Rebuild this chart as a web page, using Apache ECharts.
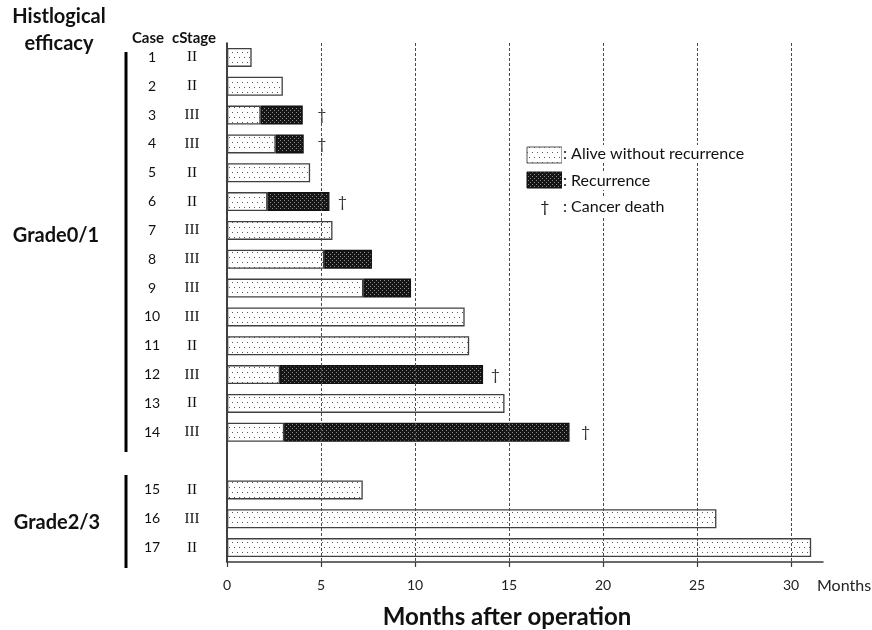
<!DOCTYPE html>
<html>
<head>
<meta charset="utf-8">
<script src="https://cdn.jsdelivr.net/npm/echarts@6/dist/echarts.min.js"></script>
<style>
html,body{margin:0;padding:0;background:#fff;}
#c{width:872px;height:630px;}
</style>
</head>
<body>
<div id="c"></div>
<script>
// ---- data ----
var cases = ['1','2','3','4','5','6','7','8','9','10','11','12','13','14','','15','16','17'];
var stages = ['II','II','III','III','II','II','III','III','III','III','II','III','II','III','','II','III','II'];
// months alive without recurrence (first segment)
var aliveMonths = [1.31, 2.97, 1.79, 2.59, 4.42, 2.15, 5.61, 5.17, 7.25, 12.64, 12.88, 2.82, 14.76, 3.04, null, 7.22, 26.03, 31.07];
// months with recurrence (second segment)
var recurrenceMonths = [null, null, 2.24, 1.49, null, 3.30, null, 2.54, 2.54, null, null, 10.80, null, 15.18, null, null, null, null];
// position of cancer death mark (months)
var deathMarks = [null, null, 5.05, 5.05, null, 6.14, null, null, null, null, null, 14.28, null, 19.07, null, null, null, null];
var tickValues = [0, 5, 10, 15, 20, 25, 30];
var gridValues = [5, 10, 15, 20, 25, 30];

// ---- patterns ----
function makeAlivePattern() {
  var c = document.createElement('canvas');
  c.width = 10; c.height = 10;
  var g = c.getContext('2d');
  g.fillStyle = '#ffffff'; g.fillRect(0, 0, 10, 10);
  g.fillStyle = '#5a5a5a';
  g.fillRect(2, 2, 1, 1); g.fillRect(7, 2, 1, 1);
  g.fillRect(4, 7, 1, 1); g.fillRect(9, 7, 1, 1);
  return c;
}
function makeRecPattern() {
  var c = document.createElement('canvas');
  c.width = 4; c.height = 4;
  var g = c.getContext('2d');
  g.fillStyle = '#161616'; g.fillRect(0, 0, 4, 4);
  g.fillStyle = '#8a8a8a';
  g.fillRect(0, 0, 1, 1); g.fillRect(2, 2, 1, 1);
  return c;
}
var alivePat = {image: makeAlivePattern(), repeat: 'repeat'};
var recPat = {image: makeRecPattern(), repeat: 'repeat'};
var alivePat2 = {image: makeAlivePattern(), repeat: 'repeat'};
var recPat2 = {image: makeRecPattern(), repeat: 'repeat'};

var chart = echarts.init(document.getElementById('c'), null, {renderer: 'canvas'});

var deathData = [];
deathMarks.forEach(function (v, i) { if (v != null) deathData.push([v, i]); });

var option = {
  animation: false,
  backgroundColor: '#ffffff',
  grid: {left: 227, right: 49, top: 43, bottom: 68, containLabel: false},
  xAxis: {
    type: 'value',
    min: 0,
    max: 31.7,
    interval: 5,
    axisLine: {show: true, lineStyle: {color: '#3a3a3a', width: 1.5}},
    axisTick: {show: true, customValues: tickValues, length: 5, lineStyle: {color: '#3a3a3a', width: 1.2}},
    axisLabel: {customValues: tickValues, fontFamily: 'Lato', fontSize: 14, color: '#222', margin: 16},
    splitLine: {show: false}
  },
  yAxis: {
    type: 'category',
    inverse: true,
    data: cases.map(function (c, i) { return i; }),
    axisLine: {show: true, lineStyle: {color: '#000', width: 1.5}},
    axisTick: {show: false},
    axisLabel: {
      margin: 15,
      interval: 0,
      formatter: function (v) {
        var i = +v;
        if (cases[i] === '') return '';
        return '{a|' + cases[i] + '}{b|' + stages[i] + '}';
      },
      rich: {
        a: {width: 40, align: 'center', fontFamily: 'Lato', fontSize: 14, color: '#111'},
        b: {width: 40, align: 'center', fontFamily: 'Liberation Serif', fontSize: 15, color: '#111'}
      }
    }
  },
  series: [
    {
      type: 'line',
      data: [],
      silent: true,
      z: 1,
      markLine: {
        silent: true,
        symbol: 'none',
        label: {show: false},
        lineStyle: {type: [3, 2], color: '#4a4a4a', width: 1},
        data: gridValues.map(function (v) { return {xAxis: v}; })
      }
    },
    {
      name: 'alive',
      type: 'bar',
      stack: 'total',
      z: 3,
      barWidth: 19,
      data: aliveMonths,
      itemStyle: {color: alivePat, borderColor: '#404040', borderWidth: 1.3}
    },
    {
      name: 'recurrence',
      type: 'bar',
      stack: 'total',
      z: 3,
      barWidth: 19,
      data: recurrenceMonths,
      itemStyle: {color: recPat, borderColor: '#111', borderWidth: 1.3}
    },
    {
      name: 'death',
      type: 'scatter',
      z: 4,
      symbolSize: 1,
      itemStyle: {color: 'transparent'},
      data: deathData,
      label: {show: true, position: 'inside', formatter: '\u2020', fontFamily: 'Lato', fontSize: 16, color: '#000'}
    }
  ],
  graphic: [
    {type: 'text', style: {text: 'Histlogical', x: 59, y: 17, align: 'center', verticalAlign: 'middle', font: 'bold 20px Lato', fill: '#111'}},
    {type: 'text', style: {text: 'efficacy', x: 59, y: 44, align: 'center', verticalAlign: 'middle', font: 'bold 20px Lato', fill: '#111'}},
    {type: 'text', style: {text: 'Case', x: 148, y: 38, align: 'center', verticalAlign: 'middle', font: 'bold 15px Lato', fill: '#111'}},
    {type: 'text', style: {text: 'cStage', x: 194, y: 38, align: 'center', verticalAlign: 'middle', font: 'bold 15px Lato', fill: '#111'}},
    {type: 'text', style: {text: 'Grade0/1', x: 56, y: 236, align: 'center', verticalAlign: 'middle', font: 'bold 20px Lato', fill: '#111'}},
    {type: 'text', style: {text: 'Grade2/3', x: 57, y: 523, align: 'center', verticalAlign: 'middle', font: 'bold 20px Lato', fill: '#111'}},
    {type: 'line', shape: {x1: 126, y1: 52, x2: 126, y2: 452}, style: {stroke: '#000', lineWidth: 3}},
    {type: 'line', shape: {x1: 126, y1: 475, x2: 126, y2: 568}, style: {stroke: '#000', lineWidth: 3}},
    {type: 'text', style: {text: 'Months', x: 817, y: 586, align: 'left', verticalAlign: 'middle', font: '16px Lato', fill: '#222'}},
    {type: 'text', style: {text: 'Months after operation', x: 507, y: 617, align: 'center', verticalAlign: 'middle', font: 'bold 24px Lato', fill: '#111'}},
    // legend
    {type: 'rect', z: 10, shape: {x: 527, y: 147, width: 35, height: 16}, style: {fill: alivePat2, stroke: '#555', lineWidth: 1}},
    {type: 'text', z: 10, style: {text: ': Alive without recurrence', x: 562, y: 154, align: 'left', verticalAlign: 'middle', font: '16px Lato', fill: '#111', backgroundColor: '#fff', padding: [1, 2, 1, 1]}},
    {type: 'rect', z: 10, shape: {x: 527, y: 172, width: 35, height: 16}, style: {fill: recPat2, stroke: '#111', lineWidth: 1}},
    {type: 'text', z: 10, style: {text: ': Recurrence', x: 562, y: 181, align: 'left', verticalAlign: 'middle', font: '16px Lato', fill: '#111', backgroundColor: '#fff', padding: [1, 2, 1, 1]}},
    {type: 'text', z: 10, style: {text: '\u2020', x: 545, y: 207, align: 'center', verticalAlign: 'middle', font: '16px Lato', fill: '#111'}},
    {type: 'text', z: 10, style: {text: ': Cancer death', x: 562, y: 207, align: 'left', verticalAlign: 'middle', font: '16px Lato', fill: '#111', backgroundColor: '#fff', padding: [1, 2, 1, 1]}}
  ]
};
chart.setOption(option);
</script>
</body>
</html>
